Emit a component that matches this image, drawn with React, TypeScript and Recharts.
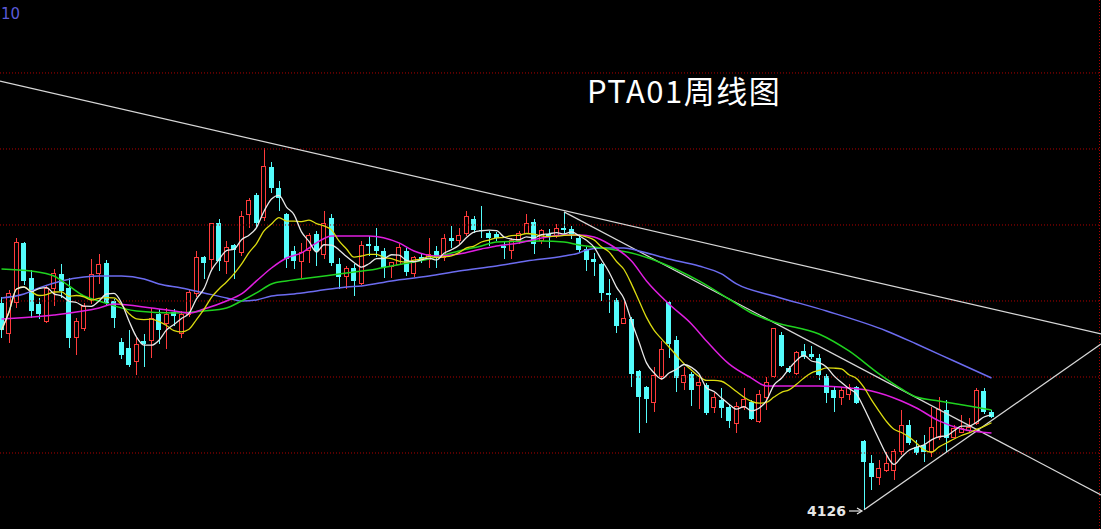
import { ComposedChart, Bar, Line, XAxis, YAxis, ReferenceLine } from 'recharts';

// weekly OHLC, PTA01
const opens = [
  5487, 5289, 5487, 5882, 5651, 5480, 5368, 5579, 5678, 5586,
  5257, 5322, 5507, 5678, 5750, 5500, 5230, 5191, 5105, 5237,
  5243, 5414, 5355, 5428, 5289, 5414, 5546, 5789, 5776, 6013,
  5763, 5868, 5816, 6072, 6197, 6046, 6382, 6243, 6072, 5829,
  5763, 5829, 5941, 5809, 6046, 5743, 5664, 5717, 5618, 5875,
  5862, 5829, 5730, 5743, 5829, 5678, 5789, 5776, 5829, 5789,
  5914, 5895, 5941, 6040, 5967, 5947, 5941, 5862, 5829, 5895,
  5947, 6020, 5895, 5941, 5928, 5980, 5974, 5914, 5842, 5776,
  5743, 5553, 5507, 5355, 5382, 5039, 4934, 4829, 5000, 5493,
  5243, 4961, 5020, 4947, 4947, 4796, 4849, 4803, 4691, 4796,
  4836, 4704, 4868, 5000, 5276, 5059, 5026, 5171, 5151, 5125,
  5007, 4914, 4862, 4882, 4934, 4579, 4434, 4342, 4388, 4388,
  4507, 4684, 4540, 4553, 4507, 4599, 4783, 4605, 4638, 4645,
  4697, 4908, 4770,
];
const highs = [
  5526, 5572, 5914, 5888, 5704, 5520, 5599, 5711, 5743, 5651,
  5388, 5487, 5776, 5809, 5770, 5513, 5257, 5309, 5257, 5283,
  5454, 5447, 5454, 5447, 5434, 5579, 5829, 5796, 6013, 6040,
  5895, 5875, 6092, 6178, 6211, 6507, 6414, 6289, 6079, 5862,
  5882, 5947, 5961, 6092, 6072, 5783, 5730, 5743, 5895, 5928,
  5980, 5849, 5757, 5875, 5849, 5796, 5809, 5914, 5862, 5941,
  5993, 5980, 6092, 6059, 6125, 5961, 5954, 5895, 5914, 5961,
  6072, 6040, 5974, 5974, 6007, 6086, 5993, 5941, 5855, 5816,
  5750, 5645, 5520, 5500, 5395, 5046, 4941, 5066, 5237, 5500,
  5270, 5066, 5033, 5013, 4961, 4895, 4928, 4816, 4836, 4928,
  4849, 4914, 5000, 5322, 5296, 5072, 5171, 5217, 5204, 5151,
  5020, 4934, 4934, 4954, 4941, 4586, 4487, 4454, 4507, 4526,
  4783, 4717, 4586, 4618, 4803, 4868, 4849, 4684, 4750, 4730,
  4928, 4928, 4783,
];
const lows = [
  5257, 5224, 5454, 5605, 5388, 5382, 5355, 5467, 5520, 5191,
  5145, 5303, 5480, 5612, 5474, 5322, 5118, 5066, 5013, 5066,
  5125, 5217, 5184, 5336, 5257, 5395, 5526, 5645, 5711, 5697,
  5678, 5645, 5796, 5980, 5980, 6026, 6211, 6092, 5717, 5711,
  5651, 5750, 5730, 5776, 5730, 5579, 5579, 5533, 5605, 5796,
  5789, 5651, 5651, 5737, 5664, 5658, 5750, 5717, 5717, 5763,
  5849, 5875, 5928, 5947, 5914, 5862, 5895, 5776, 5776, 5875,
  5941, 5809, 5875, 5849, 5914, 5941, 5908, 5822, 5697, 5664,
  5500, 5421, 5289, 5349, 4934, 4632, 4697, 4770, 4980, 5125,
  4901, 4914, 4809, 4789, 4750, 4763, 4730, 4664, 4632, 4783,
  4717, 4697, 4783, 4993, 5066, 5026, 5013, 5118, 5118, 4980,
  4829, 4770, 4816, 4849, 4822, 4126, 4257, 4289, 4375, 4322,
  4487, 4553, 4487, 4441, 4474, 4586, 4507, 4599, 4632, 4632,
  4684, 4757, 4730,
];
const closes = [
  5309, 5546, 5882, 5632, 5434, 5414, 5579, 5678, 5566, 5257,
  5368, 5461, 5671, 5743, 5487, 5388, 5145, 5079, 5217, 5217,
  5388, 5309, 5414, 5401, 5414, 5553, 5789, 5750, 6007, 5763,
  5849, 5836, 6059, 6158, 6013, 6382, 6243, 6178, 5776, 5763,
  5816, 5928, 5829, 6013, 5750, 5658, 5711, 5632, 5862, 5862,
  5829, 5717, 5750, 5849, 5691, 5783, 5776, 5809, 5789, 5914,
  5895, 5928, 6059, 5967, 5961, 5914, 5914, 5849, 5895, 5941,
  6013, 5875, 5961, 5921, 5980, 5967, 5941, 5836, 5770, 5757,
  5553, 5539, 5336, 5388, 5020, 4868, 4855, 5007, 5184, 5217,
  4993, 5007, 4914, 4967, 4763, 4868, 4796, 4711, 4803, 4849,
  4724, 4882, 4967, 5316, 5072, 5033, 5158, 5132, 5132, 5013,
  4895, 4862, 4914, 4934, 4829, 4441, 4342, 4401, 4434, 4507,
  4684, 4566, 4500, 4507, 4671, 4789, 4599, 4664, 4664, 4671,
  4914, 4770, 4737,
];

// slower averages at these weeks
const ma20At = [0, 7, 13, 15, 20, 23, 25, 27, 30, 32, 34, 36, 38, 40, 42, 44, 49, 53, 55, 58, 61, 64, 66, 69, 72, 75, 77, 79, 81, 84, 86, 89, 92, 94, 97, 100, 102, 109, 113, 116, 120, 122, 125, 128, 132];
const ma20 = [5382, 5408, 5454, 5480, 5454, 5434, 5421, 5447, 5500, 5546, 5632, 5717, 5783, 5816, 5882, 5928, 5928, 5882, 5829, 5796, 5809, 5842, 5862, 5882, 5914, 5934, 5934, 5921, 5875, 5763, 5632, 5480, 5349, 5237, 5086, 4993, 4941, 4941, 4928, 4908, 4842, 4796, 4711, 4658, 4632];
const ma40At = [0, 4, 7, 9, 11, 13, 18, 23, 27, 30, 32, 34, 36, 38, 42, 46, 50, 52, 57, 61, 64, 66, 72, 75, 77, 81, 84, 88, 93, 97, 100, 103, 109, 113, 117, 120, 122, 125, 129, 132];
const ma40 = [5711, 5697, 5664, 5599, 5533, 5500, 5434, 5421, 5434, 5454, 5500, 5553, 5612, 5632, 5658, 5684, 5711, 5730, 5776, 5829, 5862, 5888, 5895, 5888, 5868, 5842, 5816, 5750, 5632, 5513, 5421, 5362, 5283, 5171, 5020, 4921, 4868, 4842, 4809, 4783];
const ma60At = [0, 3, 5, 8, 11, 13, 16, 19, 21, 24, 27, 30, 32, 34, 36, 39, 42, 46, 48, 52, 57, 61, 66, 70, 75, 77, 78, 80, 83, 85, 89, 93, 96, 98, 103, 110, 118, 122, 127, 132];
const ma60 = [5520, 5546, 5586, 5632, 5658, 5664, 5664, 5645, 5612, 5586, 5553, 5520, 5500, 5507, 5533, 5546, 5566, 5592, 5599, 5632, 5664, 5697, 5730, 5763, 5796, 5816, 5836, 5849, 5849, 5829, 5776, 5730, 5678, 5612, 5533, 5434, 5303, 5217, 5105, 4993];

const gridPrices = [4500, 5000, 5500, 6000, 6500, 7000];
const lowLabel = '4126';

const RED = '#ff3b3b';
const CYAN = '#54fcfc';

function avg(n: number, i: number) {
  const s = Math.max(0, i - n + 1);
  let t = 0;
  for (let k = s; k <= i; k++) t += closes[k];
  return Math.round(t / (i - s + 1));
}

const rows = opens.map((o, i) => ({
  i,
  open: o,
  high: highs[i],
  low: lows[i],
  close: closes[i],
  range: [lows[i], highs[i]],
  ma5: avg(5, i),
  ma10: avg(10, i),
}));

const pts = (at: number[], v: number[]) => at.map((i, k) => ({ i, v: v[k] }));

function Candle(props: any) {
  const { x, y, width, height, payload } = props;
  if (!payload) return null;
  const top = Math.min(y, y + height);
  const h = Math.abs(height);
  const { open, close, high, low } = payload;
  const span = high - low || 1;
  const py = (v: number) => top + ((high - v) / span) * h;
  const up = close >= open;
  const color = up ? RED : CYAN;
  const cx = Math.round(x + width / 2) + 0.5;
  const bTop = py(Math.max(open, close));
  const bBot = py(Math.min(open, close));
  const bh = Math.max(1, bBot - bTop);
  const bx = Math.round(x);
  if (up) {
    return (
      <g shapeRendering="crispEdges">
        <line x1={cx} x2={cx} y1={top} y2={bTop} stroke={color} />
        <line x1={cx} x2={cx} y1={bTop + bh} y2={top + h} stroke={color} />
        <rect x={bx + 0.5} y={bTop} width={width - 1} height={bh} fill="#000" stroke={color} />
      </g>
    );
  }
  return (
    <g shapeRendering="crispEdges">
      <line x1={cx} x2={cx} y1={top} y2={top + h} stroke={color} />
      <rect x={bx} y={bTop} width={width} height={bh} fill={color} />
    </g>
  );
}

const lineProps = { type: 'monotone' as const, dot: false, activeDot: false, isAnimationActive: false };

export default function App() {
  return (
    <div style={{ position: 'fixed', left: 0, top: 0, width: 1101, height: 529, background: '#000' }}>
      <ComposedChart width={1101} height={529} data={rows} margin={{ top: 0, right: 0, bottom: 0, left: 0 }}>
        <XAxis type="number" dataKey="i" domain={[-0.2, 146.6]} hide />
        <YAxis type="number" domain={[4000, 7480]} hide />
        {gridPrices.map((p) => (
          <ReferenceLine key={p} y={p} stroke="#b00000" strokeDasharray="1 2" />
        ))}
        <ReferenceLine x={146.4} stroke="#b00000" strokeDasharray="1 2" />
        <ReferenceLine segment={[{ x: -0.2, y: 6947 }, { x: 146.6, y: 5283 }]} stroke="#d8d8d8" strokeWidth={1.2} />
        <ReferenceLine segment={[{ x: 75, y: 6086 }, { x: 146.6, y: 4224 }]} stroke="#d8d8d8" strokeWidth={1.2} />
        <ReferenceLine segment={[{ x: 115, y: 4126 }, { x: 146.6, y: 5217 }]} stroke="#d8d8d8" strokeWidth={1.2} />
        <Bar dataKey="range" barSize={5} shape={<Candle />} activeBar={false} isAnimationActive={false} />
        <Line data={pts(ma60At, ma60)} dataKey="v" stroke="#6c6cf0" strokeWidth={1.5} {...lineProps} />
        <Line data={pts(ma40At, ma40)} dataKey="v" stroke="#1fd21f" strokeWidth={1.5} {...lineProps} />
        <Line data={pts(ma20At, ma20)} dataKey="v" stroke="#e01ee0" strokeWidth={1.5} {...lineProps} />
        <Line dataKey="ma10" stroke="#dcdc10" strokeWidth={1.3} {...lineProps} />
        <Line dataKey="ma5" stroke="#e8e8e8" strokeWidth={1.3} {...lineProps} />
      </ComposedChart>
      <svg width={1101} height={529} style={{ position: 'absolute', left: 0, top: 0, pointerEvents: 'none' }}>
        <text x={1} y={19} fill="#5a5ad8" fontSize={15} fontFamily="DejaVu Sans">10</text>
        <text x={587} y={103} fill="#fff" fontSize={31} letterSpacing={1.5} fontFamily="'Noto Sans CJK SC', 'Noto Sans'">PTA01周线图</text>
        <text x={846} y={516} fill="#e6e6e6" fontSize={14} fontWeight="bold" textAnchor="end" fontFamily="'DejaVu Sans'">{lowLabel}</text>
        <line x1={849} x2={861} y1={511} y2={511} stroke="#e6e6e6" strokeWidth={1.2} />
        <path d="M857,508 L862,511 L857,514" fill="none" stroke="#e6e6e6" strokeWidth={1.2} />
      </svg>
    </div>
  );
}
